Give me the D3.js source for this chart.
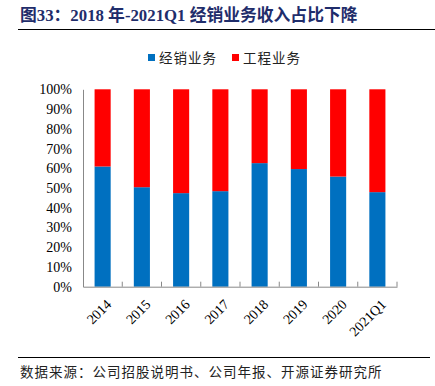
<!DOCTYPE html>
<html><head><meta charset="utf-8">
<script src="https://cdn.jsdelivr.net/npm/d3@7"></script>
<style>body{margin:0;background:#fff}svg{display:block}</style>
</head><body>
<script>
const categories = ["2014","2015","2016","2017","2018","2019","2020","2021Q1"];
const distribution = [60.9,50.4,47.4,48.4,62.6,59.6,55.8,47.9];
const engineering = distribution.map(v => 100 - v);
const yTicks = [0,10,20,30,40,50,60,70,80,90,100];
const seriesNames = ["经销业务","工程业务"];
const colors = ["#0070C0","#FF0000"];

const W=435,H=386;
const svg=d3.select("body").append("svg").attr("width",W).attr("height",H);
const m={l:83,r:38,t:89.3,b:99.3};
const x=d3.scaleBand().domain(categories).range([m.l,W-m.r]).paddingInner(0.59).paddingOuter(0.295);
const y=d3.scaleLinear().domain([0,100]).range([H-m.b,m.t]);

// title
svg.append("text").attr("x",20).attr("y",21).attr("fill","#1F2D6B")
  .attr("font-family","'Liberation Serif','Noto Sans CJK SC',serif").attr("font-weight","bold").attr("font-size",16.8)
  .text("图33：2018 年-2021Q1 经销业务收入占比下降");
svg.append("line").attr("x1",18).attr("x2",435).attr("y1",29.5).attr("y2",29.5).attr("stroke","#000").attr("stroke-width",1);

// legend
const lg=svg.append("g");
[[148,0],[232,1]].forEach(([lx,i])=>{
  lg.append("rect").attr("x",lx).attr("y",54).attr("width",7).attr("height",7).attr("fill",colors[i]);
  lg.append("text").attr("x",lx+11).attr("y",63).attr("font-family","'Noto Sans CJK SC',sans-serif").attr("font-size",13.5).attr("letter-spacing",1).attr("fill","#222").text(seriesNames[i]);
});

// bars
const data=categories.map((c,i)=>({c,a:distribution[i],b:engineering[i]}));
svg.append("g").selectAll("rect").data(data).join("rect")
  .attr("x",d=>x(d.c)).attr("width",x.bandwidth())
  .attr("y",d=>y(d.a)).attr("height",d=>y(0)-y(d.a)).attr("fill",colors[0]);
svg.append("g").selectAll("rect").data(data).join("rect")
  .attr("x",d=>x(d.c)).attr("width",x.bandwidth())
  .attr("y",d=>y(100)).attr("height",d=>y(d.a)-y(100)).attr("fill",colors[1]);

// y axis
const ya=svg.append("g").attr("transform",`translate(${m.l},0)`)
  .call(d3.axisLeft(y).tickValues(yTicks).tickFormat(d=>d+"%").tickSize(0).tickPadding(11));
ya.select(".domain").attr("stroke","#888");
ya.selectAll("text").attr("font-family","'Liberation Serif',serif").attr("font-size",14).attr("fill","#000");

// x axis
const xa=svg.append("g").attr("transform",`translate(0,${y(0)})`)
  .call(d3.axisBottom(x).tickSize(0).tickFormat(d=>d));
xa.select(".domain").attr("stroke","#888");
xa.selectAll("text").attr("font-family","'Liberation Serif',serif").attr("font-size",14).attr("fill","#000")
  .attr("text-anchor","end").attr("transform","translate(4,13) rotate(-45)").attr("dy","0.35em");
// inside ticks at band boundaries
const step=x.step();
const bounds=d3.range(categories.length+1).map(i=>m.l+i*step);
svg.append("g").selectAll("line").data(bounds.slice(1)).join("line")
  .attr("x1",d=>d).attr("x2",d=>d).attr("y1",y(0)).attr("y2",y(0)-5).attr("stroke","#888");

// footer
svg.append("line").attr("x1",18).attr("x2",430).attr("y1",357.5).attr("y2",357.5).attr("stroke","#000");
svg.append("text").attr("x",20).attr("y",377).attr("font-family","'Noto Sans CJK SC',sans-serif").attr("font-size",13.5).attr("letter-spacing",1).attr("fill","#222")
  .text("数据来源：公司招股说明书、公司年报、开源证券研究所");
</script>
</body></html>
